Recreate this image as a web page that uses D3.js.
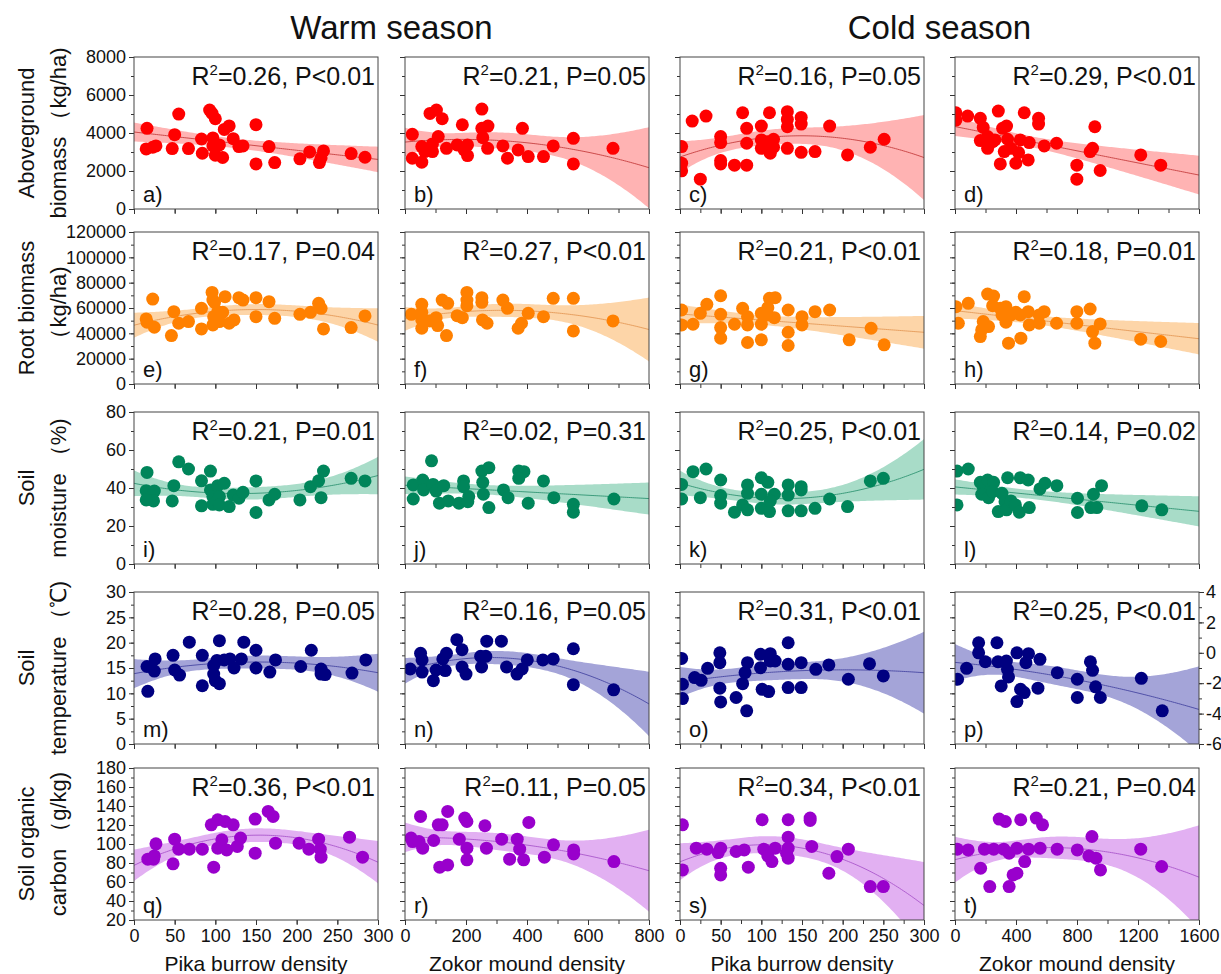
<!DOCTYPE html>
<html>
<head>
<meta charset="utf-8">
<script src="https://cdn.jsdelivr.net/npm/d3@7"></script>
<style>
  body { margin: 0; background: #fff; }
  text { font-family: Arial, "Liberation Sans", sans-serif; fill: #111; }
</style>
</head>
<body>
<svg id="chart" width="1221" height="974"></svg>
<script>
// ---- labels ----
const seasons = ["Warm season", "Cold season"];
const xTitles = ["Pika burrow density", "Zokor mound density", "Pika burrow density", "Zokor mound density"];
const rowLabels = [
  ["Aboveground", "biomass （kg/ha)"],
  ["Root biomass", "（kg/ha)"],
  ["Soil", "moisture （%)"],
  ["Soil", "temperature （℃)"],
  ["Soil organic", "carbon （g/kg)"]
];
const letters = "abcdefghijklmnopqrst".split("");
const r2Values = ["0.26", "0.21", "0.16", "0.29", "0.17", "0.27", "0.21", "0.18", "0.21", "0.02",
                  "0.25", "0.14", "0.28", "0.16", "0.31", "0.25", "0.36", "0.11", "0.34", "0.21"];
const pValues = ["P<0.01", "P=0.05", "P=0.05", "P<0.01", "P=0.04", "P<0.01", "P<0.01", "P=0.01", "P=0.01", "P=0.31",
                 "P<0.01", "P=0.02", "P=0.05", "P=0.05", "P<0.01", "P<0.01", "P<0.01", "P=0.05", "P<0.01", "P=0.04"];
const fitOrder = [1, 2, 2, 1, 2, 2, 1, 1, 2, 1, 2, 1, 2, 2, 2, 2, 2, 2, 2, 2];

// ---- axes ----
const colDomains = [[0, 300], [0, 800], [0, 300], [0, 1600]];
const colTickStep = [50, 100, 25, 200];
const colLabelStep = [50, 200, 50, 400];
const rowDomains = [[0, 8000], [0, 120000], [0, 80], [0, 30], [20, 180]];
const rowTickStep = [1000, 10000, 10, 2.5, 10];
const rowLabelStep = [2000, 20000, 20, 5, 20];
const coldTempDomain = [-6, 4];

// ---- points (x, y) per panel ----
// a) aboveground biomass, warm, pika
const a_x = [16, 15, 23, 27, 47, 50, 55, 67, 83, 84, 93, 96, 100, 97, 97, 100, 105, 109, 111, 117, 122, 129, 134, 150, 150, 166, 173, 204, 216, 228, 230, 233, 267, 284];
const a_y = [4245, 3160, 3250, 3320, 3180, 3910, 4995, 3180, 3685, 2935, 5205, 5030, 4750, 3740, 3320, 2830, 3370, 2710, 4190, 4370, 3700, 3285, 3320, 4440, 2375, 3285, 2445, 2640, 3005, 2445, 2690, 3055, 2915, 2725];
// b) warm, zokor
const b_x = [24, 24, 55, 55, 82, 103, 122, 109, 90, 90, 65, 136, 171, 188, 194, 205, 205, 252, 252, 272, 255, 271, 321, 336, 371, 385, 404, 454, 486, 552, 552, 682];
const b_y = [3930, 2670, 3285, 2465, 5030, 5205, 4750, 3810, 3425, 3020, 3020, 3195, 3370, 4435, 3110, 2810, 3370, 5260, 4245, 4365, 3755, 3195, 3320, 2670, 3110, 4245, 2760, 2760, 3320, 3720, 2375, 3195];
// c) cold, pika
const c_x = [2, 2, 2, 15, 32, 25, 50, 50, 50, 50, 67, 77, 82, 82, 82, 100, 110, 100, 100, 108, 110, 115, 115, 111, 132, 132, 132, 132, 149, 149, 149, 166, 184, 206, 234, 251];
const c_y = [3285, 2410, 2010, 4630, 4890, 1570, 3810, 3495, 2550, 2375, 2305, 5065, 4245, 3460, 2305, 4365, 5065, 3635, 3195, 3545, 3020, 3670, 3250, 2935, 5120, 4715, 4330, 3195, 4820, 4470, 2985, 3020, 4365, 2845, 3250, 3670];
// d) cold, zokor
const d_x = [6, 6, 83, 166, 185, 166, 214, 214, 247, 262, 284, 312, 338, 345, 323, 367, 417, 428, 454, 487, 480, 399, 297, 548, 548, 585, 666, 799, 799, 886, 902, 917, 952, 1218, 1349];
const d_y = [5065, 4680, 4890, 4770, 4295, 3600, 3810, 3195, 3545, 3635, 5155, 4245, 4365, 3670, 3020, 3195, 2970, 3635, 5065, 3495, 2585, 2410, 2375, 4770, 4470, 3320, 3460, 2305, 1570, 3020, 3195, 4330, 2025, 2845, 2305];
// e) root biomass
const e_x = [15, 16, 23, 25, 46, 49, 55, 67, 83, 83, 96, 97, 99, 98, 97, 103, 105, 109, 112, 117, 123, 129, 134, 150, 150, 166, 173, 204, 217, 227, 230, 233, 267, 284];
const e_y = [51350, 48730, 67070, 44800, 38250, 57120, 47950, 49260, 59740, 43490, 72310, 66290, 64450, 53190, 46640, 57120, 49260, 56590, 68910, 47950, 50570, 68120, 66290, 68120, 53190, 64980, 51880, 55020, 56590, 63670, 59740, 43490, 44540, 53710];
const f_x = [21, 55, 55, 55, 55, 81, 102, 107, 122, 140, 136, 171, 188, 203, 203, 203, 252, 252, 254, 269, 321, 336, 371, 382, 404, 454, 486, 552, 552, 682];
const f_y = [55020, 62880, 56590, 50570, 44020, 49780, 52400, 46110, 66290, 63670, 38250, 53970, 52400, 72310, 66290, 61830, 68120, 64450, 50570, 47950, 66290, 59740, 44020, 47950, 55810, 53190, 67600, 67600, 41920, 49780];
const g_x = [2, 2, 16, 25, 33, 50, 50, 50, 50, 67, 77, 83, 83, 83, 100, 100, 100, 108, 110, 117, 116, 108, 133, 133, 133, 150, 150, 166, 184, 208, 235, 251];
const g_y = [58430, 46640, 47160, 55810, 62880, 69690, 55020, 44540, 36160, 47160, 59740, 53190, 46640, 32750, 55810, 47160, 34850, 60260, 67600, 68120, 52400, 54500, 58430, 40870, 30390, 53190, 46640, 57120, 58430, 34850, 44020, 30920];
const h_x = [6, 22, 87, 166, 175, 185, 220, 214, 253, 247, 297, 334, 308, 334, 367, 399, 428, 351, 432, 454, 480, 487, 552, 552, 585, 666, 799, 799, 886, 902, 917, 952, 1218, 1349];
const h_y = [61050, 47950, 63670, 37470, 42700, 49260, 45330, 71000, 69430, 61830, 59740, 61050, 54500, 48730, 54500, 56590, 54500, 32230, 36160, 68910, 57120, 46640, 54500, 47950, 57120, 47950, 57120, 47950, 59210, 41400, 32230, 47420, 35370, 33540];
// i-l) soil moisture
const i_x = [16, 15, 25, 24, 15, 47, 49, 55, 67, 83, 83, 94, 94, 97, 97, 103, 105, 105, 111, 117, 122, 129, 134, 150, 150, 166, 173, 204, 217, 227, 230, 233, 267, 284];
const i_y = [48.2, 38.6, 38.4, 33.2, 33.7, 33.2, 41.2, 53.8, 50.0, 43.8, 30.6, 48.9, 39.0, 35.5, 31.4, 41.2, 35.5, 31.1, 42.5, 30.2, 36.3, 34.6, 37.7, 43.7, 27.1, 33.7, 36.7, 33.7, 40.7, 43.8, 34.9, 48.9, 45.1, 43.7];
const j_x = [27, 27, 58, 61, 87, 92, 102, 113, 127, 142, 177, 192, 192, 206, 209, 252, 275, 255, 257, 275, 323, 338, 373, 390, 373, 404, 454, 488, 552, 552, 685];
const j_y = [41.6, 34.2, 44.2, 39.0, 54.3, 41.9, 38.4, 32.0, 41.2, 33.2, 32.0, 43.7, 40.7, 32.8, 35.5, 48.9, 50.7, 43.0, 36.7, 29.7, 39.0, 34.9, 48.9, 48.6, 45.1, 32.0, 43.7, 34.9, 31.4, 27.3, 34.2];
const k_x = [2, 2, 16, 32, 25, 50, 50, 50, 67, 77, 83, 83, 83, 100, 108, 100, 100, 110, 116, 111, 133, 133, 133, 149, 149, 149, 166, 184, 206, 234, 250];
const k_y = [41.9, 34.2, 48.6, 50.0, 34.9, 44.2, 36.0, 32.0, 27.3, 31.1, 41.6, 37.2, 28.5, 45.4, 43.0, 36.7, 29.3, 27.6, 36.7, 33.2, 41.6, 36.3, 28.0, 40.7, 39.0, 28.0, 29.3, 34.2, 30.2, 43.7, 45.1];
const l_x = [13, 87, 13, 166, 185, 214, 253, 175, 220, 247, 284, 308, 328, 338, 345, 367, 396, 422, 428, 480, 487, 557, 590, 668, 803, 803, 891, 908, 930, 961, 1225, 1356];
const l_y = [48.9, 50.0, 31.1, 43.0, 40.7, 44.2, 43.0, 36.7, 34.9, 38.1, 27.6, 37.2, 32.8, 28.5, 45.4, 33.2, 31.1, 27.3, 45.4, 44.2, 29.7, 39.5, 42.5, 41.2, 34.6, 27.1, 29.7, 36.7, 29.7, 41.2, 30.6, 28.5];
// m-p) soil temperature (o, p on the right-hand axis)
const m_x = [17, 16, 26, 25, 48, 50, 56, 68, 84, 84, 105, 98, 98, 100, 105, 102, 111, 118, 123, 132, 135, 150, 150, 167, 174, 205, 218, 230, 230, 235, 268, 285];
const m_y = [10.4, 15.3, 16.8, 14.4, 17.5, 14.6, 13.6, 20.1, 17.5, 11.5, 20.4, 15.5, 13.8, 12.5, 11.9, 16.5, 16.6, 16.8, 15.0, 16.8, 20.1, 18.5, 15.0, 14.2, 16.6, 15.3, 18.5, 14.8, 13.8, 13.7, 14.0, 16.6];
const n_x = [17, 51, 56, 56, 93, 102, 124, 136, 132, 170, 187, 187, 200, 248, 251, 268, 265, 316, 333, 367, 384, 401, 452, 486, 552, 552, 684];
const n_y = [14.8, 17.9, 16.6, 14.2, 12.5, 14.6, 16.8, 17.9, 14.5, 20.6, 18.6, 15.2, 13.8, 17.3, 15.2, 20.3, 17.3, 20.3, 15.2, 13.8, 14.8, 16.6, 16.6, 16.8, 18.8, 11.7, 10.7];
const o_x = [2, 3, 3, 18, 26, 34, 49, 49, 49, 50, 69, 77, 80, 82, 83, 99, 99, 101, 109, 111, 111, 117, 133, 133, 133, 149, 149, 167, 183, 207, 233, 250];
const o_y = [-0.37, -2.07, -3.01, -1.63, -1.81, -1.02, 0.0, -0.65, -2.33, -3.23, -2.94, -2.03, -1.31, -3.82, -0.65, -0.10, -0.98, -2.40, -2.55, -0.06, -0.54, -0.54, 0.66, -0.76, -2.29, -0.65, -2.29, -1.09, -0.80, -1.74, -0.72, -1.52];
const p_x = [17, 76, 155, 155, 199, 275, 282, 337, 344, 351, 303, 406, 406, 430, 454, 482, 465, 544, 557, 671, 802, 802, 888, 902, 922, 953, 1222, 1359];
const p_y = [-1.74, -1.02, 0.66, 0.0, -0.59, 0.66, -0.59, -0.54, -1.09, -1.59, -2.18, 0.0, -3.21, -2.40, -2.62, -0.06, -0.65, -2.33, -0.43, -1.31, -1.74, -2.94, -0.59, -1.15, -2.24, -2.94, -1.68, -3.82];
// q-t) soil organic carbon
const q_x = [17, 25, 24, 27, 48, 50, 55, 68, 84, 98, 95, 103, 103, 108, 112, 114, 122, 127, 131, 149, 149, 165, 171, 174, 203, 215, 227, 229, 230, 265, 281];
const q_y = [84.0, 87.5, 84.0, 100.2, 79.1, 105.1, 94.6, 94.6, 94.6, 75.6, 120.2, 125.5, 95.6, 104.4, 123.7, 93.8, 120.2, 97.4, 106.2, 126.2, 90.3, 134.3, 129.0, 100.9, 100.9, 94.6, 105.1, 94.6, 86.1, 107.2, 86.1];
const r_x = [20, 25, 46, 51, 58, 94, 109, 122, 114, 140, 140, 178, 196, 203, 203, 203, 262, 267, 317, 343, 368, 376, 389, 406, 457, 487, 553, 553, 685];
const r_y = [106.2, 102.6, 102.6, 129.0, 95.6, 103.7, 120.2, 120.2, 75.6, 78.0, 134.3, 105.1, 127.3, 95.6, 83.3, 123.7, 119.2, 95.6, 105.1, 84.0, 105.1, 94.6, 83.3, 122.7, 86.1, 99.1, 93.8, 89.6, 81.5];
const s_x = [3, 3, 20, 33, 47, 50, 50, 50, 69, 79, 84, 101, 103, 108, 113, 117, 133, 133, 133, 133, 160, 160, 162, 193, 207, 183, 234, 250, 131];
const s_y = [120.2, 72.7, 95.6, 94.6, 91.0, 95.6, 74.5, 67.5, 92.1, 93.8, 75.6, 125.5, 94.6, 87.5, 81.5, 95.6, 125.5, 107.2, 95.6, 85.1, 124.8, 127.3, 97.4, 86.8, 94.6, 69.2, 55.2, 55.2, 90.3];
const t_x = [15, 86, 168, 193, 228, 254, 290, 320, 330, 355, 355, 381, 406, 406, 457, 431, 482, 558, 533, 574, 670, 802, 878, 898, 924, 954, 1218, 1355];
const t_y = [94.6, 93.8, 74.5, 94.6, 55.2, 94.6, 126.2, 94.6, 123.7, 55.2, 90.3, 67.5, 69.2, 95.6, 81.5, 125.5, 94.6, 95.6, 127.3, 120.2, 94.6, 93.8, 87.5, 107.9, 85.1, 72.7, 94.6, 76.3];

const panelData = [
  [a_x, a_y], [b_x, b_y], [c_x, c_y], [d_x, d_y],
  [e_x, e_y], [f_x, f_y], [g_x, g_y], [h_x, h_y],
  [i_x, i_y], [j_x, j_y], [k_x, k_y], [l_x, l_y],
  [m_x, m_y], [n_x, n_y], [o_x, o_y], [p_x, p_y],
  [q_x, q_y], [r_x, r_y], [s_x, s_y], [t_x, t_y]
];

// row colours
const dotColors  = ["#ff0000", "#ff8000", "#00855a", "#000080", "#9900cc"];
const bandColors = ["#ffb3b3", "#fdd5a8", "#a8dcc8", "#a4a4d8", "#e2b0f2"];
const lineColors = ["#cc4a4a", "#e8a060", "#3c9c7c", "#5050a8", "#b060d0"];

// layout
const colLeft = [134, 405, 680, 955];
const rowTop = [57, 232, 412, 592, 768];
const pw = 244, ph = 152;

const svg = d3.select("#chart");

// least squares polynomial fit with 95% confidence band
function invert(M) {
  const n = M.length;
  const A = M.map((row, i) => row.concat(d3.range(n).map(j => (i === j ? 1 : 0))));
  for (let c = 0; c < n; c++) {
    let piv = c;
    for (let r = c + 1; r < n; r++) if (Math.abs(A[r][c]) > Math.abs(A[piv][c])) piv = r;
    [A[c], A[piv]] = [A[piv], A[c]];
    const d = A[c][c];
    for (let k = 0; k < 2 * n; k++) A[c][k] /= d;
    for (let r = 0; r < n; r++) {
      if (r === c) continue;
      const f = A[r][c];
      for (let k = 0; k < 2 * n; k++) A[r][k] -= f * A[c][k];
    }
  }
  return A.map(row => row.slice(n));
}

function polyFit(xs, ys, order, scale) {
  const p = order + 1, n = xs.length;
  const basis = x => d3.range(p).map(k => Math.pow(x / scale, k));
  const XtX = d3.range(p).map(() => new Array(p).fill(0));
  const Xty = new Array(p).fill(0);
  xs.forEach((x, i) => {
    const v = basis(x);
    for (let r = 0; r < p; r++) {
      Xty[r] += v[r] * ys[i];
      for (let c = 0; c < p; c++) XtX[r][c] += v[r] * v[c];
    }
  });
  const inv = invert(XtX);
  const beta = inv.map(row => d3.sum(row, (a, k) => a * Xty[k]));
  const pred = x => d3.sum(basis(x), (v, k) => v * beta[k]);
  const s2 = d3.sum(xs, (x, i) => (ys[i] - pred(x)) ** 2) / (n - p);
  const tval = 2.04;
  return x => {
    const v = basis(x);
    let q = 0;
    for (let r = 0; r < p; r++) for (let c = 0; c < p; c++) q += v[r] * inv[r][c] * v[c];
    const yh = pred(x), h = tval * Math.sqrt(s2 * q);
    return { x, y: yh, lo: yh - h, hi: yh + h };
  };
}

const steps = (d, s) => d3.range(d[0], d[1] + s / 2, s);
const fmt = d => String(d);

// column headers
seasons.forEach((s, k) => {
  const cx = (colLeft[2 * k] + colLeft[2 * k + 1] + pw) / 2;
  svg.append("text")
    .attr("x", cx).attr("y", 39)
    .attr("text-anchor", "middle")
    .attr("font-size", 33)
    .text(s);
});

// row titles
rowLabels.forEach((lines, r) => {
  const cy = rowTop[r] + ph / 2;
  lines.forEach((t, li) => {
    svg.append("text")
      .attr("transform", `translate(${li === 0 ? 34 : 66},${cy}) rotate(-90)`)
      .attr("text-anchor", "middle")
      .attr("font-size", 22)
      .text(t);
  });
});

// panels
panelData.forEach(([xs, ys], idx) => {
  const r = Math.floor(idx / 4), c = idx % 4;
  const g = svg.append("g").attr("transform", `translate(${colLeft[c]},${rowTop[r]})`);

  const xDom = colDomains[c];
  const useRight = r === 3 && c >= 2;
  const yDom = useRight ? coldTempDomain : rowDomains[r];
  const x = d3.scaleLinear().domain(xDom).range([0, pw]);
  const y = d3.scaleLinear().domain(yDom).range([ph, 0]);

  const clipId = `clip-${idx}`;
  g.append("clipPath").attr("id", clipId)
    .append("rect").attr("width", pw).attr("height", ph);

  // fit + band
  const fit = polyFit(xs, ys, fitOrder[idx], xDom[1]);
  const grid = d3.range(0, 121).map(i => fit(xDom[0] + (xDom[1] - xDom[0]) * i / 120));
  const plot = g.append("g").attr("clip-path", `url(#${clipId})`);
  plot.append("path")
    .datum(grid)
    .attr("fill", bandColors[r])
    .attr("d", d3.area().x(d => x(d.x)).y0(d => y(d.lo)).y1(d => y(d.hi)));
  plot.append("path")
    .datum(grid)
    .attr("fill", "none")
    .attr("stroke", lineColors[r])
    .attr("stroke-width", 1)
    .attr("d", d3.line().x(d => x(d.x)).y(d => y(d.y)));

  // points
  plot.selectAll("circle")
    .data(xs.map((v, i) => [v, ys[i]]))
    .join("circle")
    .attr("cx", d => x(d[0]))
    .attr("cy", d => y(d[1]))
    .attr("r", 6.5)
    .attr("fill", dotColors[r]);

  // axes
  const yLeft = d3.scaleLinear().domain(rowDomains[r]).range([ph, 0]);
  g.append("g").call(d3.axisLeft(yLeft).tickValues(steps(rowDomains[r], rowTickStep[r]))
    .tickSize(3).tickFormat(""));
  g.append("g").call(d3.axisLeft(yLeft).tickValues(steps(rowDomains[r], rowLabelStep[r]))
    .tickSize(5).tickPadding(3).tickFormat(c === 0 ? fmt : ""));

  g.append("g").attr("transform", `translate(0,${ph})`)
    .call(d3.axisBottom(x).tickValues(steps(xDom, colTickStep[c])).tickSize(4).tickFormat(""));
  g.append("g").attr("transform", `translate(0,${ph})`)
    .call(d3.axisBottom(x).tickValues(steps(xDom, colLabelStep[c])).tickSize(5).tickPadding(4)
      .tickFormat(r === 4 ? fmt : ""));

  if (r === 3 && c === 3) {
    g.append("g").attr("transform", `translate(${pw},0)`)
      .call(d3.axisRight(y).tickValues(steps(coldTempDomain, 1)).tickSize(3).tickFormat(""));
    g.append("g").attr("transform", `translate(${pw},0)`)
      .call(d3.axisRight(y).tickValues(steps(coldTempDomain, 2)).tickSize(5).tickPadding(2).tickFormat(fmt));
  }

  g.selectAll(".domain").remove();
  g.selectAll(".tick line").attr("stroke", "#333");
  g.selectAll(".tick text").attr("font-size", 18).attr("fill", "#111")
    .style("font-family", "Arial, 'Liberation Sans', sans-serif");

  // frame
  g.append("rect")
    .attr("width", pw).attr("height", ph)
    .attr("fill", "none").attr("stroke", "#444").attr("stroke-width", 1);

  // panel letter
  g.append("text")
    .attr("x", 9).attr("y", ph - 7)
    .attr("font-size", 22)
    .text(letters[idx] + ")");

  // R2 / P text
  const st = g.append("text")
    .attr("x", pw - 3).attr("y", 28)
    .attr("text-anchor", "end")
    .attr("font-size", 25);
  st.append("tspan").text("R");
  st.append("tspan").attr("font-size", 15).attr("dy", -10).text("2");
  st.append("tspan").attr("dy", 10).text(`=${r2Values[idx]}, ${pValues[idx]}`);

  // x titles
  if (r === 4) {
    svg.append("text")
      .attr("x", colLeft[c] + pw / 2).attr("y", 971)
      .attr("text-anchor", "middle")
      .attr("font-size", 21)
      .text(xTitles[c]);
  }
});
</script>
</body>
</html>
